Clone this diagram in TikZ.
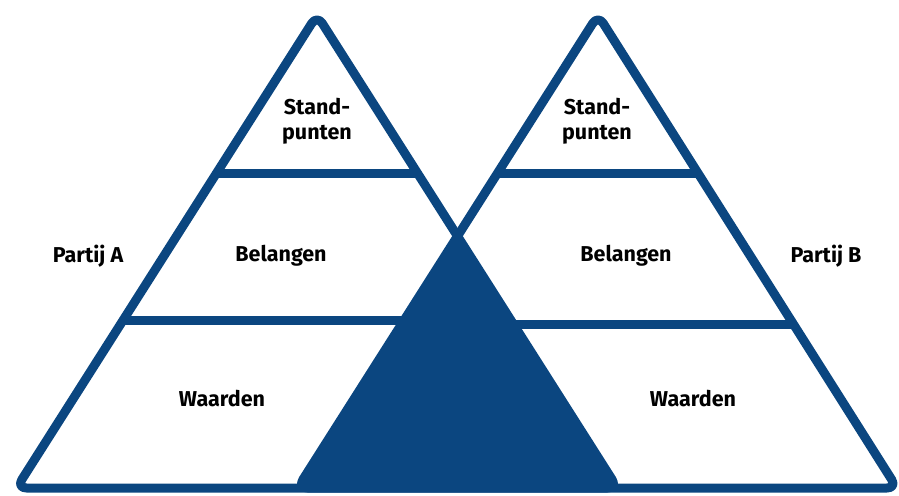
\documentclass[tikz,border=0pt]{standalone}
\usepackage{fontspec}
\setmainfont{Fira Sans}
\usetikzlibrary{calc}
\definecolor{navy}{RGB}{11,70,128}
\begin{document}
\begin{tikzpicture}[x=1pt,y=-1pt,
  tri/.style={draw=navy,line width=9pt,rounded corners=10pt,line join=round},
  divline/.style={draw=navy,line width=9pt},
  lbl/.style={font=\bfseries\fontsize{21.5}{24.5}\selectfont,align=center,text=black,inner sep=0pt}]
\useasboundingbox (0,0) rectangle (899,495);
\coordinate (LA) at (317,15);
\coordinate (LL) at (16.5,488);
\coordinate (LR) at (617.5,488);
\coordinate (RA) at (598,15);
\coordinate (RL) at (297.5,488);
\coordinate (RR) at (897,488);
\coordinate (X) at (457.5,236);
% dividers
\coordinate (a1) at ($(LA)!0.336!(LL)$);
\coordinate (a2) at ($(LA)!0.336!(LR)$);
\coordinate (a3) at ($(LA)!0.645!(LL)$);
\coordinate (a4) at ($(LA)!0.645!(LR)$);
\coordinate (b1) at ($(RA)!0.336!(RL)$);
\coordinate (b2) at ($(RA)!0.336!(RR)$);
\coordinate (b3) at ($(RA)!0.655!(RL)$);
\coordinate (b4) at ($(RA)!0.655!(RR)$);
\draw[divline] (a1) -- (a2);
\draw[divline] (a3) -- (a4);
\draw[divline] (b1) -- (b2);
\draw[divline] (b3) -- (b4);
\draw[tri] (LL) -- (LA) -- (LR) -- cycle;
\draw[tri] (RL) -- (RA) -- (RR) -- cycle;
\fill[navy] (X) -- (RL) -- (LR) -- cycle;
% labels
\node[lbl] (sa) at (317,121) {Stand-\\punten};
\node[lbl] (ba) at (281,256) {Belangen};
\node[lbl] (wa) at (222,399) {Waarden};
\node[lbl] (pa) at (88,256) {Partij A};
\node[lbl] (sb) at (597,121) {Stand-\\punten};
\node[lbl] (bb) at (626,256) {Belangen};
\node[lbl] (wb) at (693,399) {Waarden};
\node[lbl] (pb) at (826,256) {Partij B};
\end{tikzpicture}
\end{document}
